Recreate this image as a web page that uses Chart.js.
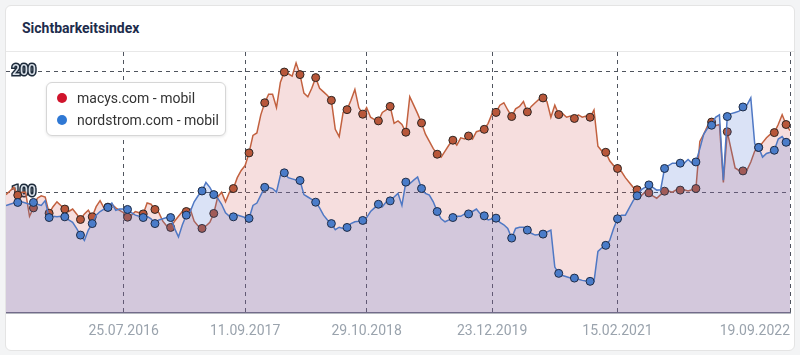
<!DOCTYPE html>
<html><head><meta charset="utf-8">
<script src="https://cdn.jsdelivr.net/npm/chart.js@4"></script>
<style>
html,body{margin:0;padding:0;background:#f3f4f5;width:800px;height:355px;overflow:hidden;font-family:Roboto,sans-serif}
.card{position:absolute;left:5px;top:5px;width:788px;height:344px;background:#fff;border:1px solid #e4e4e4;border-radius:6px;overflow:hidden}
.title{position:absolute;left:16px;top:14px;font-weight:700;font-size:14px;color:#1d2c4c;letter-spacing:0}
.sep{position:absolute;left:0;right:0;top:45px;height:1px;background:#e8e8e8}
.wrap{position:absolute;left:0;top:46px}
.legend{position:absolute;left:40px;top:76px;width:178px;height:52px;background:#fff;border:1px solid #d6d6d6;border-radius:6px;box-shadow:0 1px 3px rgba(0,0,0,.10)}
.li{position:absolute;left:10px;height:18px;line-height:18px;font-size:14px;color:#333;white-space:nowrap}
.li i{position:absolute;left:0;top:4px;width:10px;height:10px;border-radius:50%}
.li span{position:absolute;left:20px;top:0}
</style></head>
<body>
<div class="card">
  <div class="title">Sichtbarkeitsindex</div>
  <div class="sep"></div>
  <div class="wrap"><canvas id="c" width="786" height="292"></canvas></div>
  <div class="legend">
    <div class="li" style="top:6px"><i style="background:#d0142c"></i><span>macys.com - mobil</span></div>
    <div class="li" style="top:28px"><i style="background:#2f78d4"></i><span>nordstrom.com - mobil</span></div>
  </div>
</div>
<script>
const tickIndex = [30, 61, 92, 124, 156, 200];
const tickDates = ['25.07.2016', '11.09.2017', '29.10.2018', '23.12.2019', '15.02.2021', '19.09.2022'];
const yTicks = [100, 200];
const markerIdx = [3,7,11,15,19,22,26,31,35,38,42,46,50,53,58,62,66,71,75,79,83,87,91,95,98,102,106,110,114,118,122,125,129,133,137,141,145,149,153,156,161,164,168,172,176,180,184,188,192,196,199];

const macys = [
 98, 101, 104, 97.5, 100, 100, 80, 87, 95, 97,
 96, 82.6, 88, 92, 89, 86, 84, 86, 82, 77.4,
 82, 85, 79.6, 88, 93, 87, 87.6, 90, 87, 85,
 83, 79.3, 81, 84, 83, 82, 91, 90, 85.7, 83,
 76, 72, 70.8, 76, 80, 84, 84, 86, 76, 72,
 70, 72, 75, 82.4, 96, 100, 92, 100, 103, 112,
 118, 122, 132.5, 147, 149, 164, 174, 181, 181, 170,
 191, 199.4, 198, 196, 207, 197.3, 182, 179, 186, 194.8,
 186, 183, 180, 176, 152, 146, 166, 168.3, 176, 185,
 170, 164.5, 170, 162, 160, 159, 166, 168, 171, 157,
 159, 156, 149.6, 179, 172, 165, 157.3, 148, 142, 136,
 131.4, 129, 134, 139, 143, 139, 145, 144, 146.5, 144,
 150, 151, 152, 157, 165, 166, 172, 174, 168, 162.6,
 169, 171, 175, 166.4, 171, 174, 177, 178, 175, 162,
 172, 164.2, 165, 162, 163, 161, 164, 162, 163, 162,
 168, 138, 134, 133, 126, 122, 119.6, 117, 112, 108,
 104, 102, 97, 100, 99.4, 97, 95, 98, 100.8, 101,
 100, 102, 101.7, 102, 101, 102, 103, 142, 148, 155,
 158, 155, 156, 108, 150, 135, 120, 118, 117.6, 118,
 125, 134, 137, 141, 145, 148, 149.3, 156, 164, 156, 151
];
const nordstrom = [
 89, 90, 91, 91.5, 92, 91, 90, 91.5, 90, 89,
 93, 79, 80, 79.6, 80, 79.6, 77, 75, 70, 64.5,
 60, 68.6, 74, 81, 84, 86, 87.4, 91, 85, 86,
 86, 85.7, 83, 81, 80, 79, 80, 78, 74, 77,
 78, 79, 79, 70, 63, 73, 81, 84, 92, 97,
 101, 108, 104, 98, 95, 90, 83, 80, 79.6, 81,
 80, 79, 78.3, 89, 91, 97.5, 104, 104, 103, 100,
 114, 116, 112, 111, 110, 109.7, 98, 96, 94, 91.7,
 87, 81, 77, 74, 69, 71, 70, 70.8, 74, 75.5,
 76, 76.6, 79, 84, 87, 90, 88, 92, 92.8, 96,
 99, 89, 108.3, 107, 110, 112.6, 103, 99, 97.5, 92,
 84, 78, 75.5, 77, 79, 80, 80, 82, 82, 84,
 86, 82, 80.4, 77, 78, 78.5, 75, 73, 70, 62,
 70, 71, 71, 68.6, 66, 64.5, 65, 65.3, 67, 68.6,
 38, 32.8, 31, 30, 29, 28.9, 28, 27, 26.5, 26.2,
 26, 51, 54, 56, 60, 70, 78, 81, 81, 87,
 93, 97, 102, 104, 106, 104, 101.7, 102, 119.6, 122,
 124, 124, 124, 124, 127, 124, 125, 136, 148, 153,
 155.4, 162, 164, 110, 162.6, 165, 166, 167, 170.5, 172,
 178, 140, 137, 129, 132, 133, 134.7, 144, 146, 141.3, 139
];

const labels = macys.map((v, i) => {
  const k = tickIndex.indexOf(i);
  return k >= 0 ? tickDates[k] : '';
});
const markerR = c => markerIdx.includes(c.dataIndex) ? 4 : 0;

new Chart(document.getElementById('c'), {
  type: 'line',
  data: {
    labels: labels,
    datasets: [
      {
        label: 'macys.com - mobil', data: macys, order: 2,
        borderColor: '#c2613f', backgroundColor: 'rgba(210,90,90,0.2)', fill: 'origin',
        borderWidth: 1.5, tension: 0,
        pointRadius: markerR, pointHoverRadius: markerR,
        pointBackgroundColor: '#b8573a', pointBorderColor: '#2e2522', pointBorderWidth: 1
      },
      {
        label: 'nordstrom.com - mobil', data: nordstrom, order: 1,
        borderColor: '#4f78c4', backgroundColor: 'rgba(70,110,210,0.2)', fill: 'origin',
        borderWidth: 1.5, tension: 0,
        pointRadius: markerR, pointHoverRadius: markerR,
        pointBackgroundColor: '#4a7cc9', pointBorderColor: '#1e2b45', pointBorderWidth: 1
      }
    ]
  },
  options: {
    responsive: false, animation: false,
    layout: { padding: { left: 0, right: 2, top: 0, bottom: 0 } },
    plugins: { legend: { display: false }, tooltip: { enabled: false } },
    scales: {
      x: {
        afterFit: s => { s.paddingLeft = 0; s.paddingRight = 0; s.paddingTop = 0; s.paddingBottom = 0; s.height = 31; },
        grid: { color: c => tickIndex.includes(c.index) ? '#50555f' : 'rgba(0,0,0,0)', lineWidth: 1, drawTicks: false },
        border: { display: true, color: '#6a7080', width: 1.5, dash: [4, 4] },
        ticks: { autoSkip: false, maxRotation: 0, minRotation: 0, align: 'inner', color: '#9aa3ad', font: { family: 'Roboto', size: 14 }, padding: 10 }
      },
      y: {
        min: 0, max: 216,
        afterBuildTicks: s => { s.ticks = yTicks.map(v => ({ value: v })); },
        afterFit: s => { s.paddingLeft = 0; s.paddingRight = 0; s.paddingTop = 0; s.paddingBottom = 0; s.width = 0; },
        grid: { color: '#50555f', lineWidth: 1, drawTicks: false },
        border: { display: false, dash: [4, 4] },
        ticks: { mirror: true, padding: 6, color: '#d9e0e8', textStrokeColor: '#1c2a3a', textStrokeWidth: 3, font: { family: 'Roboto', size: 14, weight: '500' } }
      }
    }
  }
});
</script>
</body></html>
